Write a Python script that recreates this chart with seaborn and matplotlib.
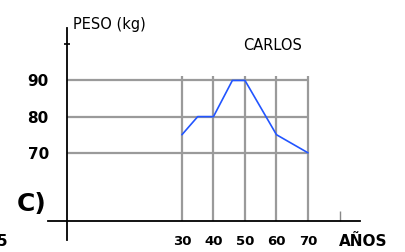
import matplotlib
matplotlib.use("Agg")
import matplotlib.pyplot as plt
import seaborn as sns
import pandas as pd

# data
edad = [30, 35, 40, 46, 50, 60, 70]
peso = [75, 80, 80, 90, 90, 75, 70]
x_ticks = [30, 40, 50, 60, 70]
x_labels = ["30", "40", "50", "60", "70"]
y_ticks = [70, 80, 90]
y_labels = ["70", "80", "90"]
x_extra = [80]    # unlabeled mark on the age axis
y_extra = [100]   # unlabeled mark on the weight axis

sns.set_style("white")
plt.rcParams["font.family"] = ["DejaVu Sans"]
plt.rcParams["text.color"] = "black"

df = pd.DataFrame({"edad": edad, "peso": peso})

fig = plt.figure(figsize=(4.05, 2.52), dpi=100)
ax = fig.add_axes([48 / 405, 12 / 252, 312 / 405, 212 / 252])
ax.set_xlim(-12.5, 86.5)
ax.set_ylim(45.9, 104.5)

x0, y0 = -6.5, 51.1   # where the axes cross

# grid only inside the chart area
ax.hlines(y_ticks, x0, x_ticks[-1], color="#9a9a9a", lw=1.6, zorder=1)
ax.vlines(x_ticks, y0, 91.2, color="#9a9a9a", lw=1.6, zorder=1)

sns.lineplot(data=df, x="edad", y="peso", color="#2255ff", lw=1.2, ax=ax, zorder=3)

for s in ["top", "right"]:
    ax.spines[s].set_visible(False)
ax.spines["left"].set_position(("data", x0))
ax.spines["bottom"].set_position(("data", y0))
for s in ["left", "bottom"]:
    ax.spines[s].set_color("black")
    ax.spines[s].set_linewidth(1.3)

ax.set_xticks(x_ticks)
ax.set_xticklabels(x_labels, fontsize=9.5, fontweight="bold", color="black")
ax.set_yticks(y_ticks)
ax.set_yticklabels(y_labels, fontsize=11, fontweight="bold", color="black")
ax.set_xticks(x_extra, minor=True)
ax.set_yticks(y_extra, minor=True)
ax.tick_params(axis="both", which="both", bottom=True, left=True)
ax.tick_params(axis="both", which="major", length=0)
ax.tick_params(axis="x", which="major", pad=10)
ax.tick_params(axis="y", which="major", pad=13)
ax.tick_params(axis="x", which="minor", direction="in", length=7, width=1, color="#888888")
ax.tick_params(axis="y", which="minor", direction="inout", length=5, width=1.2, color="black")
ax.set_xlabel("")
ax.set_ylabel("")

fig.text(73 / 405, 1 - 24 / 252, "PESO (kg)", fontsize=10.5, va="center", ha="left")
fig.text(273 / 405, 1 - 45 / 252, "CARLOS", fontsize=10.5, va="center", ha="center")
fig.text(363 / 405, 1 - 241 / 252, "AÑOS", fontsize=11, fontweight="bold", va="center", ha="center")
fig.text(32 / 405, 1 - 204 / 252, "C)", fontsize=18, fontweight="bold", va="center", ha="center")
fig.text(-3 / 405, 1 - 241 / 252, "5", fontsize=11, fontweight="bold", va="center", ha="left")

fig.savefig("out.png", dpi=100)
